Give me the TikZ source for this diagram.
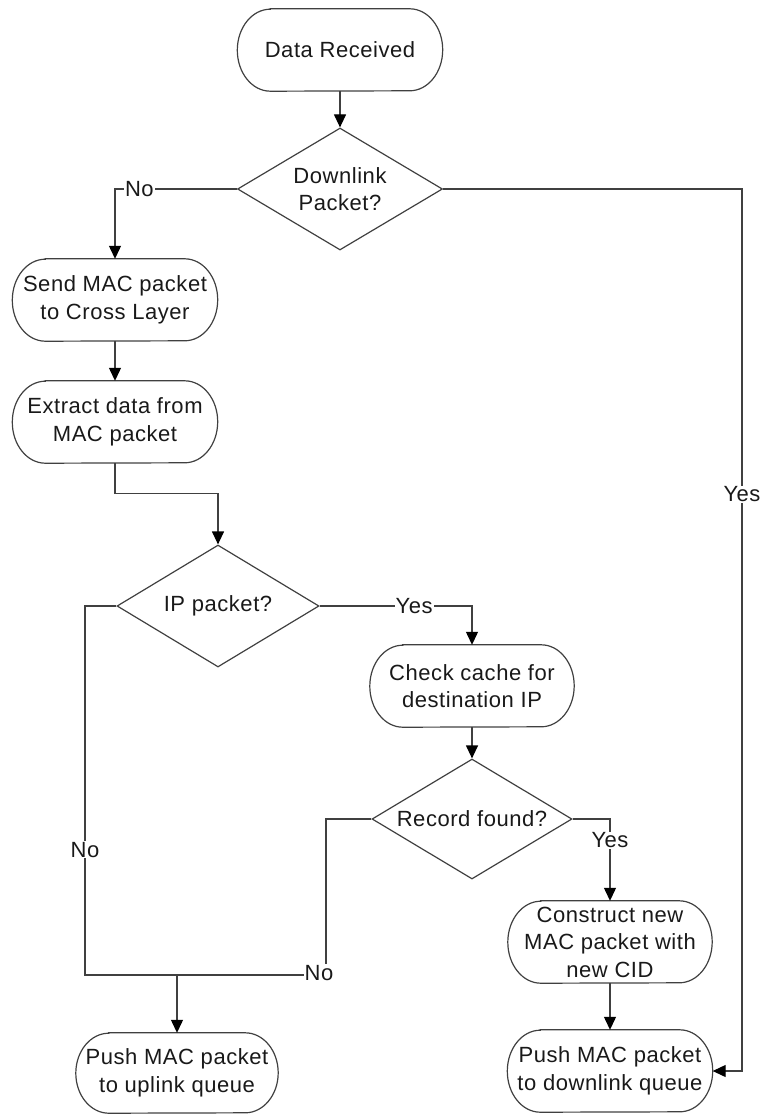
\documentclass[tikz,border=0pt]{standalone}
\usepackage{fontspec}
\setmainfont[LetterSpace=2.5]{Liberation Sans}
\usetikzlibrary{shapes.geometric,arrows.meta}
\definecolor{linegray}{RGB}{64,64,64}
\definecolor{inkblack}{RGB}{25,25,25}
\begin{document}
\begin{tikzpicture}[x=1pt,y=-1pt,
  every node/.style={font=\fontsize{22}{27.5}\selectfont, text=inkblack},
  term/.style={minimum width=205pt, minimum height=82pt, inner sep=0pt, align=center},
  decision/.style={diamond, draw=linegray, line width=1.2pt, aspect=1.67,
    inner sep=0pt, align=center, minimum width=205pt, minimum height=122pt},
  flow/.style={draw=linegray, line width=1.2pt},
  arr/.style={flow, -{Triangle[length=13pt,width=12pt,color=black]}},
  lbl/.style={fill=white, inner sep=1pt}
]
\useasboundingbox (0,0) rectangle (767,1115);

% process steps (outlines drawn below)
\node[term] (dr) at (340,50) {Data Received};
\node[decision] (dl) at (340,189) {Downlink\\Packet?};
\node[term] (send) at (115,300) {Send MAC packet\\to Cross Layer};
\node[term] (extract) at (115,422) {Extract data from\\MAC packet};
\node[decision, minimum width=202pt] (ip) at (218,606) {IP packet?};
\node[term, minimum width=204pt] (check) at (472,686) {Check cache for\\destination IP};
\node[decision, minimum width=200pt, minimum height=120pt] (rf) at (472,819) {Record found?};
\node[term, minimum width=204pt] (construct) at (610,942) {Construct new\\MAC packet with\\new CID};
\node[term, minimum width=202pt, minimum height=80pt] (up) at (177,1073) {Push MAC packet\\to uplink queue};
\node[term] (down) at (610,1071) {Push MAC packet\\to downlink queue};

% terminator outlines with elliptical ends
\foreach \n/\ry in {dr/41,send/41,extract/41,check/41,construct/41,up/40,down/41}
  \draw[flow] ([xshift=33pt]\n.north west) -- ([xshift=-33pt]\n.north east)
    arc[start angle=90, end angle=-90, x radius=33pt, y radius=\ry pt]
    -- ([xshift=33pt]\n.south west)
    arc[start angle=270, end angle=90, x radius=33pt, y radius=\ry pt] -- cycle;

% routing points
\coordinate (rc) at (742,189);
\coordinate (jl) at (85,975);
\coordinate (jr) at (326,975);
\coordinate (j) at (177,975);

% connectors
\draw[arr] (dr) -- (dl);
\draw[arr] (dl.west) -| node[lbl,pos=0.4]{No} (send.north);
\draw[arr] (dl.east) -- (rc) |- node[lbl,pos=0.173]{Yes} (down.east);
\draw[arr] (send) -- (extract);
\draw[arr] (extract.south) -- ++(0,30) -| (ip.north);
\draw[arr] (ip.east) -| node[lbl,pos=0.31]{Yes} (check.north);
\draw[flow] (ip.west) -| node[lbl,pos=0.83]{No} (jl) -- (j);
\draw[arr] (check) -- (rf);
\draw[flow] (rf.west) -| (jr) -- (j);
\node[lbl] (nolabel) at (319,973) {No};
\draw[arr] (rf.east) -| node[lbl,pos=0.63]{Yes} (construct.north);
\draw[arr] (j) -- (up.north);
\draw[arr] (construct) -- (down);
\end{tikzpicture}
\end{document}
